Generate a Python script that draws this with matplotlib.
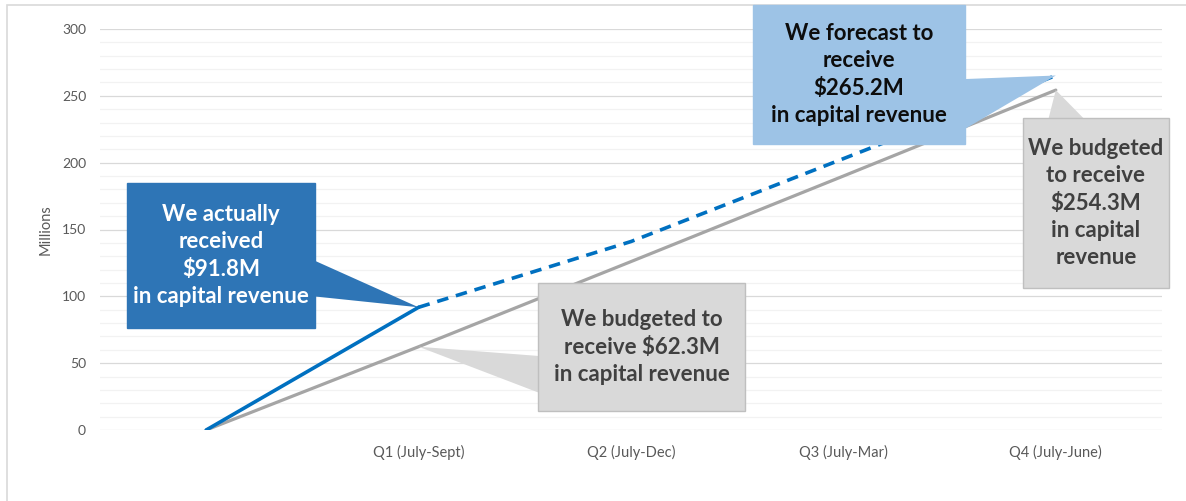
import matplotlib.pyplot as plt
from matplotlib.patches import Rectangle

# quarters on the category axis (first slot is the starting point, no label)
categories = ['', 'Q1 (July-Sept)', 'Q2 (July-Dec)', 'Q3 (July-Mar)', 'Q4 (July-June)']

# millions of dollars
budget = [0, 62.3, 126, 190, 254.3]
actual = [0, 91.8]
forecast = [91.8, 141, 203, 265.2]

W, H = 1186, 501


def fx(px):
    return px / W


def fy(py):
    return 1 - py / H


plt.rcParams['font.family'] = ['Lato', 'DejaVu Sans']

fig = plt.figure(figsize=(W / 100, H / 100), dpi=100)
ax = fig.add_axes([fx(100), fy(430), fx(1162) - fx(100), fy(29) - fy(430)])

x = list(range(len(categories)))

ax.plot(x, budget, color='#A5A5A5', lw=2.3, solid_capstyle='round', zorder=2)
ax.plot(x[:len(actual)], actual, color='#0070C0', lw=2.6, solid_capstyle='round', zorder=3)
ax.plot(x[1:], forecast, color='#0070C0', lw=2.6, linestyle=(0, (3.2, 2.2)), zorder=3)

ax.set_xlim(-0.5, len(categories) - 0.5)
ax.set_ylim(0, 300)
ax.set_xticks(x)
ax.set_xticklabels(categories)
ax.set_yticks(range(0, 301, 50))
ax.set_yticks(range(0, 301, 10), minor=True)
ax.grid(axis='y', which='major', color='#D9D9D9', lw=0.9)
ax.grid(axis='y', which='minor', color='#F2F2F2', lw=0.9)
ax.set_axisbelow(True)
for s in ax.spines.values():
    s.set_visible(False)
ax.tick_params(axis='both', which='both', length=0, colors='#595959')
ax.tick_params(axis='x', pad=11, labelsize=10.5)
ax.tick_params(axis='y', pad=10, labelsize=10)
ax.set_ylabel('Millions', color='#595959', fontsize=10.5)
ax.yaxis.set_label_coords(-0.045, 0.5)

# light frame round the whole chart
fig.add_artist(Rectangle((fx(7), fy(540)), fx(1300), fy(5) - fy(540), transform=fig.transFigure,
                         fill=False, edgecolor='#D9D9D9', lw=1.2))

# callouts: box (left, top, right, bottom in px), colours, text, target point, wedge start, wedge width
callouts = [
    dict(box=(127, 183, 315, 328), fc='#2E75B6', ec='#2E75B6', tc='white',
         text='We actually\nreceived\n$91.8M\nin capital revenue',
         xy=(1, actual[1]), start=(280, 270), w=46),
    dict(box=(538, 283, 745, 411), fc='#D9D9D9', ec='#BFBFBF', tc='#404040',
         text='We budgeted to\nreceive $62.3M\nin capital revenue',
         xy=(1, budget[1]), start=(580, 383), w=48),
    dict(box=(753, 5, 965, 144), fc='#9DC3E6', ec='#9DC3E6', tc='#0D0D0D',
         text='We forecast to\nreceive\n$265.2M\nin capital revenue',
         xy=(4, forecast[-1]), start=(945, 108), w=58),
    dict(box=(1023, 118, 1169, 288), fc='#D9D9D9', ec='#BFBFBF', tc='#404040',
         text='We budgeted\nto receive\n$254.3M\nin capital\nrevenue',
         xy=(4, budget[-1]), start=(1072, 150), w=70),
]

ms = 10  # mutation scale in points
for c in callouts:
    l, t, r, b = c['box']
    ax.annotate('', xy=c['xy'], xycoords='data',
                xytext=(fx(c['start'][0]), fy(c['start'][1])), textcoords='figure fraction',
                arrowprops=dict(arrowstyle='wedge,tail_width=%.2f' % (c['w'] / (ms * 100 / 72)),
                                mutation_scale=ms, fc=c['fc'], ec='none', shrinkA=0, shrinkB=0),
                zorder=4, annotation_clip=False)
    fig.add_artist(Rectangle((fx(l), fy(b)), fx(r) - fx(l), fy(t) - fy(b), transform=fig.transFigure,
                             facecolor=c['fc'], edgecolor=c['ec'], lw=1, zorder=5))
    fig.text(fx((l + r) / 2), fy((t + b) / 2), c['text'], ha='center', va='center',
             color=c['tc'], fontsize=16, fontweight='bold', linespacing=1.38, zorder=6)

fig.savefig('out.png', dpi=100)
